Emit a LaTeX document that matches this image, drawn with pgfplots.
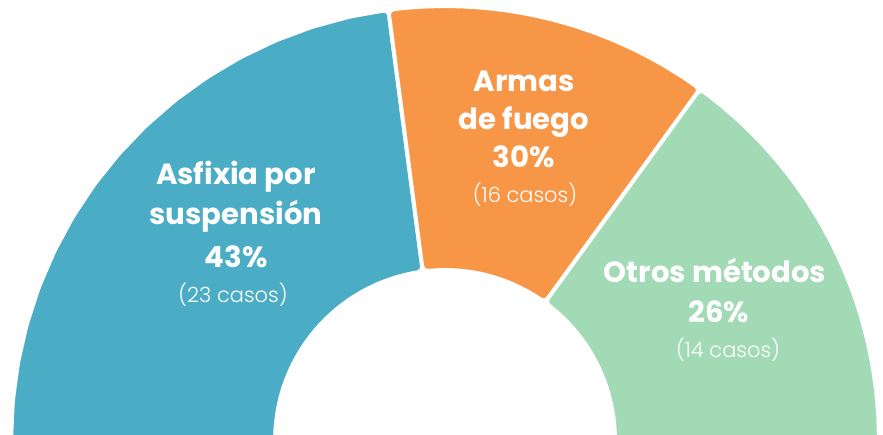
\documentclass[border=0pt]{standalone}
\usepackage{pgfplots}
\pgfplotsset{compat=1.18}
\usepackage{fontspec}
\setmainfont{Poppins}
\newfontfamily\lightfont{Poppins Light}
\definecolor{cblue}{HTML}{4BACC6}
\definecolor{corange}{HTML}{F79646}
\definecolor{cgreen}{HTML}{A1DAB4}
% #1 start angle, #2 end angle (degrees), #3 colour
\newcommand{\sector}[3]{%
  \addplot[fill=#3, draw=white, line width=4bp, rounded corners=5bp,
    samples at={0,...,33}, variable=\s]
  ({((\s<=16)?434:170)*cos((\s<=16)?(#1+(#2-#1)*\s/16):(#2-(#2-#1)*(\s-17)/16))},
   {((\s<=16)?434:170)*sin((\s<=16)?(#1+(#2-#1)*\s/16):(#2-(#2-#1)*(\s-17)/16))}) -- cycle;}
\begin{document}
\begin{tikzpicture}
\begin{axis}[
  scale only axis, width=883bp, height=435bp,
  xmin=-445, xmax=438, ymin=5, ymax=440,
  hide axis, clip=true]
% sectors: angular extents
\sector{97.5}{180}{cblue}
\sector{54}{97.5}{corange}
\sector{0}{54}{cgreen}
\tikzset{big/.style={anchor=base, text=white, font=\bfseries\fontsize{29.3}{31}\selectfont},
         small/.style={anchor=base, text=white, font=\lightfont\fontsize{21}{24}\selectfont}}
\node[big] at (axis cs:-209,255) {Asfixia por};
\node[big] at (axis cs:-209,215) {suspensión};
\node[big] at (axis cs:-209,172) {43\%};
\node[small] at (axis cs:-212,137) {(23 casos)};
\node[big] at (axis cs:79,348) {Armas};
\node[big] at (axis cs:79,310) {de fuego};
\node[big] at (axis cs:79,272) {30\%};
\node[small] at (axis cs:80,237) {(16 casos)};
\node[big] at (axis cs:270,157) {Otros métodos};
\node[big] at (axis cs:274,117) {26\%};
\node[small] at (axis cs:283,82) {(14 casos)};
\end{axis}
\pgfresetboundingbox
\path (current axis.south west) rectangle (current axis.north east);
\end{tikzpicture}
\end{document}
